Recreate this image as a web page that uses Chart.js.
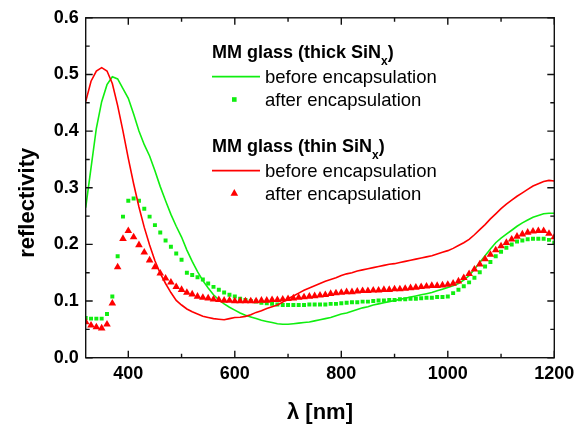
<!DOCTYPE html>
<html>
<head>
<meta charset="utf-8">
<script src="https://cdn.jsdelivr.net/npm/chart.js@4"></script>
<style>
html,body{margin:0;padding:0;background:#fff}
#wrap{width:582px;height:426px}
</style>
</head>
<body>
<div id="wrap"><canvas id="c" width="582" height="426"></canvas></div>
<script>
// ---------- data ----------
const wavelengths = [
  320,330,340,350,360,370,380,390,
  400,410,420,430,440,450,460,470,480,490,
  500,510,520,530,540,550,560,570,580,590,
  600,610,620,630,640,650,660,670,680,690,
  700,710,720,730,740,750,760,770,780,790,
  800,810,820,830,840,850,860,870,880,890,
  900,910,920,930,940,950,960,970,980,990,
  1000,1010,1020,1030,1040,1050,1060,1070,1080,1090,
  1100,1110,1120,1130,1140,1150,1160,1170,1180,1190,
  1200
];
// MM glass (thick SiNx), before encapsulation (green line)
const thickBefore = [
  0.265,0.335,0.405,0.452,0.482,0.496,0.492,0.475,
  0.458,0.430,0.400,0.376,0.356,0.330,0.302,0.277,0.253,0.232,
  0.213,0.190,0.170,0.152,0.136,0.123,0.111,0.102,0.095,0.089,
  0.084,0.079,0.075,0.072,0.069,0.066,0.064,0.062,0.060,0.059,
  0.059,0.060,0.061,0.062,0.063,0.065,0.067,0.069,0.071,0.074,
  0.077,0.079,0.082,0.085,0.088,0.090,0.093,0.095,0.097,0.099,
  0.101,0.103,0.105,0.107,0.109,0.111,0.113,0.115,0.118,0.121,
  0.124,0.127,0.131,0.137,0.145,0.156,0.168,0.180,0.192,0.203,
  0.211,0.218,0.225,0.232,0.238,0.243,0.248,0.251,0.254,0.255,
  0.255
];
// MM glass (thick SiNx), after encapsulation (green squares)
const thickAfter = [
  0.070,0.069,0.069,0.069,0.077,0.108,0.179,0.249,
  0.277,0.281,0.277,0.263,0.249,0.234,0.221,0.207,0.196,0.184,
  0.173,0.150,0.146,0.142,0.138,0.131,0.125,0.120,0.115,0.111,
  0.108,0.104,0.102,0.100,0.099,0.097,0.096,0.095,0.094,0.093,
  0.093,0.093,0.093,0.093,0.094,0.094,0.094,0.094,0.095,0.095,
  0.096,0.097,0.098,0.098,0.099,0.099,0.100,0.101,0.101,0.102,
  0.102,0.103,0.103,0.104,0.104,0.105,0.106,0.106,0.107,0.107,
  0.108,0.114,0.120,0.126,0.133,0.141,0.151,0.161,0.169,0.179,
  0.187,0.194,0.200,0.205,0.207,0.209,0.210,0.210,0.210,0.208,
  0.203
];
// MM glass (thin SiNx), before encapsulation (red line)
const thinBefore = [
  0.452,0.488,0.506,0.512,0.506,0.484,0.445,0.400,
  0.352,0.307,0.266,0.230,0.199,0.171,0.149,0.131,0.115,0.101,
  0.093,0.086,0.081,0.077,0.073,0.071,0.069,0.068,0.067,0.069,
  0.071,0.0715,0.073,0.076,0.080,0.083,0.087,0.090,0.093,0.098,
  0.104,0.109,0.114,0.119,0.123,0.127,0.131,0.135,0.138,0.141,
  0.145,0.148,0.150,0.153,0.155,0.157,0.159,0.161,0.163,0.165,
  0.166,0.168,0.170,0.172,0.174,0.176,0.178,0.180,0.183,0.186,
  0.189,0.193,0.198,0.203,0.209,0.217,0.226,0.235,0.245,0.254,
  0.263,0.271,0.278,0.285,0.291,0.297,0.303,0.307,0.311,0.313,
  0.312
];
// MM glass (thin SiNx), after encapsulation (red triangles)
const thinAfter = [
  0.063,0.057,0.054,0.052,0.059,0.096,0.160,0.210,
  0.224,0.213,0.199,0.186,0.172,0.160,0.149,0.140,0.133,0.125,
  0.120,0.115,0.112,0.108,0.106,0.105,0.103,0.102,0.101,0.101,
  0.100,0.100,0.100,0.100,0.100,0.101,0.101,0.102,0.102,0.103,
  0.104,0.105,0.106,0.107,0.108,0.109,0.110,0.111,0.113,0.114,
  0.115,0.116,0.116,0.117,0.118,0.118,0.119,0.119,0.120,0.120,
  0.121,0.121,0.122,0.123,0.124,0.125,0.126,0.127,0.127,0.128,
  0.129,0.131,0.135,0.141,0.148,0.156,0.165,0.174,0.182,0.190,
  0.197,0.203,0.209,0.214,0.218,0.221,0.223,0.224,0.224,0.219,
  0.213
];

const xMajorTicks = [400,600,800,1000,1200];
const xMinorTicks = [500,700,900,1100];
const yMajorTicks = [0.0,0.1,0.2,0.3,0.4,0.5,0.6];
const yMinorTicks = [0.05,0.15,0.25,0.35,0.45,0.55];

const xTitle = 'λ [nm]';
const yTitle = 'reflectivity';
const legendHeaders = ['MM glass (thick SiN', 'MM glass (thin SiN'];
const legendSub = 'x';
const legendClose = ')';
const legendItems = ['before encapsulation', 'after encapsulation'];

// ---------- styles ----------
const GREEN = '#10ee10';
const RED = '#ff0000';
const FONT = "'Liberation Sans', Arial, Helvetica, sans-serif";
Chart.defaults.font.family = FONT;

const toPts = arr => wavelengths.map((w, i) => ({x: w, y: arr[i]}));

const datasets = [
  {label: 'thick before', data: toPts(thickBefore), borderColor: GREEN, backgroundColor: GREEN,
   borderWidth: 1.6, pointRadius: 0, tension: 0, order: 4},
  {label: 'thick after', data: toPts(thickAfter), borderColor: GREEN, backgroundColor: GREEN,
   showLine: false, pointStyle: 'rect', pointRadius: 2.8, pointBorderWidth: 0, order: 3},
  {label: 'thin before', data: toPts(thinBefore), borderColor: RED, backgroundColor: RED,
   borderWidth: 1.6, pointRadius: 0, tension: 0, order: 2},
  {label: 'thin after', data: toPts(thinAfter), borderColor: RED, backgroundColor: RED,
   showLine: false, pointStyle: 'triangle', pointRadius: 4.4, pointBorderWidth: 0, order: 1}
];

// shift the y-axis title along the axis (as in the reference)
const titleShift = {
  id: 'titleShift',
  beforeDraw(chart) {
    const s = chart.scales.y;
    if (s && !s._titleShifted) {
      const orig = s.drawTitle.bind(s);
      s.drawTitle = function () {
        this.ctx.save();
        this.ctx.translate(0, 15);
        orig();
        this.ctx.restore();
      };
      s._titleShifted = true;
    }
  }
};

// inward ticks on all four sides + frame
const frameTicks = {
  id: 'frameTicks',
  afterDraw(chart) {
    const {ctx, chartArea: a, scales: {x, y}} = chart;
    ctx.save();
    ctx.strokeStyle = '#111';
    ctx.lineWidth = 1.4;
    ctx.strokeRect(a.left, a.top, a.right - a.left, a.bottom - a.top);
    ctx.beginPath();
    const xt = (v, len) => {
      const p = x.getPixelForValue(v);
      ctx.moveTo(p, a.bottom); ctx.lineTo(p, a.bottom - len);
      ctx.moveTo(p, a.top); ctx.lineTo(p, a.top + len);
    };
    const yt = (v, len) => {
      const p = y.getPixelForValue(v);
      ctx.moveTo(a.left, p); ctx.lineTo(a.left + len, p);
      ctx.moveTo(a.right, p); ctx.lineTo(a.right - len, p);
    };
    xMajorTicks.forEach(v => xt(v, 7));
    xMinorTicks.forEach(v => xt(v, 4));
    yMajorTicks.forEach(v => yt(v, 7));
    yMinorTicks.forEach(v => yt(v, 4));
    ctx.stroke();
    ctx.restore();
  }
};

// grouped legend with subscript
const groupLegend = {
  id: 'groupLegend',
  afterDraw(chart) {
    const ctx = chart.ctx;
    const ds = chart.data.datasets;
    const groups = [
      {header: legendHeaders[0], line: ds[0], marker: ds[1], base: 57.7},
      {header: legendHeaders[1], line: ds[2], marker: ds[3], base: 151.7}
    ];
    const x0 = 212, xText = 265;
    ctx.save();
    ctx.textBaseline = 'alphabetic';
    ctx.textAlign = 'left';
    groups.forEach(g => {
      ctx.fillStyle = '#000';
      ctx.font = 'bold 18px ' + FONT;
      ctx.fillText(g.header, x0, g.base);
      let w = ctx.measureText(g.header).width;
      ctx.font = 'bold 12px ' + FONT;
      ctx.fillText(legendSub, x0 + w, g.base + 7);
      const ws = ctx.measureText(legendSub).width;
      ctx.font = 'bold 18px ' + FONT;
      ctx.fillText(legendClose, x0 + w + ws, g.base);

      const b1 = g.base + 25.6, b2 = g.base + 48.3;
      ctx.font = '18.5px ' + FONT;
      ctx.fillText(legendItems[0], xText, b1);
      ctx.fillText(legendItems[1], xText, b2);

      ctx.strokeStyle = g.line.borderColor;
      ctx.lineWidth = 1.8;
      ctx.beginPath();
      ctx.moveTo(x0, b1 - 6.6); ctx.lineTo(x0 + 48, b1 - 6.6);
      ctx.stroke();

      ctx.fillStyle = g.marker.backgroundColor;
      const cx = 234.3, cy = b2 - 6.5;
      if (g.marker.pointStyle === 'rect') {
        ctx.fillRect(cx - 2.3, cy - 2.3, 4.6, 4.6);
      } else {
        const r = 4.4;
        ctx.beginPath();
        ctx.moveTo(cx, cy - r);
        ctx.lineTo(cx + r * 0.866, cy + r * 0.5);
        ctx.lineTo(cx - r * 0.866, cy + r * 0.5);
        ctx.closePath();
        ctx.fill();
      }
    });
    ctx.restore();
  }
};

new Chart(document.getElementById('c'), {
  type: 'line',
  data: {datasets},
  options: {
    responsive: false,
    animation: false,
    devicePixelRatio: 1,
    layout: {padding: {top: 13.3, right: 27.7, left: 0, bottom: 0}},
    plugins: {legend: {display: false}, tooltip: {enabled: false}},
    scales: {
      x: {
        type: 'linear', min: 320, max: 1200,
        grid: {display: false, drawTicks: false},
        border: {display: false},
        afterBuildTicks: s => { s.ticks = xMajorTicks.map(v => ({value: v})); },
        afterFit: s => { s.height = 68.3; },
        ticks: {color: '#000', font: {size: 18, weight: 'bold'}, padding: 6,
                maxRotation: 0, autoSkip: false, callback: v => String(v)},
        title: {display: true, text: xTitle, color: '#000',
                font: {size: 22, weight: 'bold'}, padding: {top: 0, bottom: 0}}
      },
      y: {
        type: 'linear', min: 0, max: 0.6,
        grid: {display: false, drawTicks: false},
        border: {display: false},
        afterBuildTicks: s => { s.ticks = yMajorTicks.map(v => ({value: v})); },
        afterFit: s => { s.width = 85.7; },
        ticks: {color: '#000', font: {size: 18, weight: 'bold'}, padding: 7,
                autoSkip: false, callback: v => Number(v).toFixed(1)},
        title: {display: true, text: yTitle, color: '#000',
                font: {size: 22, weight: 'bold'}, padding: {top: 15, bottom: 0}}
      }
    }
  },
  plugins: [titleShift, frameTicks, groupLegend]
});
</script>
</body>
</html>
